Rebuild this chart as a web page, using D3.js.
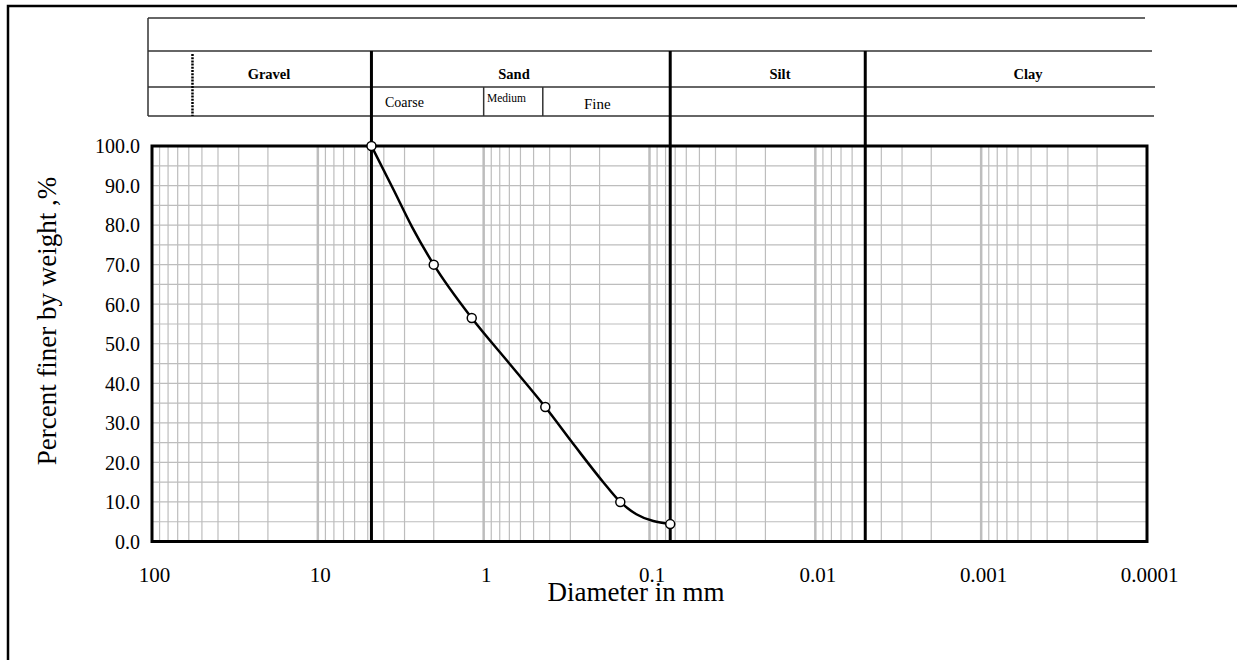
<!DOCTYPE html>
<html>
<head>
<meta charset="utf-8">
<script src="https://cdn.jsdelivr.net/npm/d3@7/dist/d3.min.js"></script>
<style>
  html, body { margin: 0; padding: 0; background: #fff; }
  svg { display: block; }
  text { font-family: "Liberation Serif", "Times New Roman", serif; fill: #000; }
</style>
</head>
<body>
<svg id="chart" width="1237" height="660"></svg>
<script>
// Sieve analysis results
const sieveSize = [4.75, 2.0, 1.18, 0.425, 0.15, 0.075];      // mm
const percentFiner = [100, 70, 56.5, 34, 10, 4.4];              // %

// Grading curve as drawn (passes through the sieve points)
const curveSize = [4.75, 3.5, 2.7, 2.0, 1.18, 0.7, 0.425, 0.28, 0.19, 0.15, 0.12, 0.075];
const curvePercent = [100, 89, 79.5, 70, 56.5, 45, 34, 24, 15, 10, 6.9, 4.4];

// Axis ticks
const xTickValues = [100, 10, 1, 0.1, 0.01, 0.001, 0.0001];
const xTickLabels = ["100", "10", "1", "0.1", "0.01", "0.001", "0.0001"];
const yTickValues = [0, 10, 20, 30, 40, 50, 60, 70, 80, 90, 100];

// Soil classification boundaries (mm)
const classBounds = [4.75, 0.075, 0.005];   // gravel|sand, sand|silt, silt|clay
const sandSubBounds = [1.0, 0.44];          // coarse|medium, medium|fine
const gravelDivider = 57;
const classNames = ["Gravel", "Sand", "Silt", "Clay"];
const sandNames = ["Coarse", "Medium", "Fine"];

const svg = d3.select("#chart");

const plot = { left: 152, right: 1147, top: 146, bottom: 541.5 };
const x = d3.scaleLog().domain([100, 0.0001]).range([plot.left, plot.right]);
const y = d3.scaleLinear().domain([0, 100]).range([plot.bottom, plot.top]);

// Outer frame (runs off the right and bottom edges)
svg.append("rect")
  .attr("x", 8).attr("y", 6).attr("width", 1260).attr("height", 700)
  .attr("fill", "none").attr("stroke", "#000").attr("stroke-width", 2.5);

// Minor/major vertical grid
const minorX = [];
for (let e = -4; e < 2; e++) {
  for (let m = 2; m <= 9; m++) minorX.push(m * Math.pow(10, e));
}
const grid = svg.append("g");
grid.selectAll("line.vminor").data(minorX).join("line")
  .attr("x1", d => x(d)).attr("x2", d => x(d))
  .attr("y1", plot.top).attr("y2", plot.bottom)
  .attr("stroke", "#bdbdbd").attr("stroke-width", 1.2);
grid.selectAll("line.vmajor").data(xTickValues.slice(1, -1)).join("line")
  .attr("x1", d => x(d)).attr("x2", d => x(d))
  .attr("y1", plot.top).attr("y2", plot.bottom)
  .attr("stroke", "#bdbdbd").attr("stroke-width", 2.5);

// Horizontal grid every 5 %
const hGrid = d3.range(5, 100, 5);
grid.selectAll("line.h").data(hGrid).join("line")
  .attr("x1", plot.left).attr("x2", plot.right)
  .attr("y1", d => y(d)).attr("y2", d => y(d))
  .attr("stroke", "#bdbdbd").attr("stroke-width", 1.2);

// Plot frame
svg.append("rect")
  .attr("x", plot.left).attr("y", plot.top)
  .attr("width", plot.right - plot.left).attr("height", plot.bottom - plot.top)
  .attr("fill", "none").attr("stroke", "#000").attr("stroke-width", 3);

// Classification table above the plot
const table = svg.append("g").attr("stroke", "#333").attr("stroke-width", 1.5);
const rows = [
  { y: 18, x2: 1145 },
  { y: 51, x2: 1152 },
  { y: 87, x2: 1155 },
  { y: 116, x2: 1154 }
];
table.selectAll("line.row").data(rows).join("line")
  .attr("x1", 148).attr("x2", d => d.x2)
  .attr("y1", d => d.y).attr("y2", d => d.y);
table.append("line").attr("x1", 148).attr("x2", 148).attr("y1", 18).attr("y2", 116);

// Sand sub-division ticks
table.selectAll("line.sub").data(sandSubBounds).join("line")
  .attr("x1", d => x(d)).attr("x2", d => x(d))
  .attr("y1", 87).attr("y2", 116);

// Dotted gravel divider
svg.append("line")
  .attr("x1", x(gravelDivider)).attr("x2", x(gravelDivider))
  .attr("y1", 54).attr("y2", 116)
  .attr("stroke", "#000").attr("stroke-width", 2.5)
  .attr("stroke-dasharray", "2,1.2");

// Class boundaries through table and plot
svg.selectAll("line.bound").data(classBounds).join("line")
  .attr("x1", d => x(d)).attr("x2", d => x(d))
  .attr("y1", 51).attr("y2", plot.bottom)
  .attr("stroke", "#000").attr("stroke-width", 3);

// Class headings
const headingX = [269, 514, 780, 1028];
svg.selectAll("text.cls").data(classNames).join("text")
  .attr("x", (d, i) => headingX[i]).attr("y", 79)
  .attr("text-anchor", "middle")
  .attr("font-weight", "bold").attr("font-size", 14.5)
  .text(d => d);

const sandLayout = [
  { x: 385, y: 107, size: 14 },
  { x: 487, y: 102, size: 11.5 },
  { x: 584, y: 109, size: 15 }
];
svg.selectAll("text.sand").data(sandNames).join("text")
  .attr("x", (d, i) => sandLayout[i].x).attr("y", (d, i) => sandLayout[i].y)
  .attr("font-size", (d, i) => sandLayout[i].size)
  .text(d => d);

// Axes
const xAxis = d3.axisBottom(x).tickValues(xTickValues)
  .tickFormat((d, i) => xTickLabels[i]).tickSize(0).tickPadding(0);
const gx = svg.append("g").attr("transform", `translate(2,${plot.bottom})`).call(xAxis);
gx.select(".domain").remove();
gx.selectAll("text").attr("dy", 0).attr("y", 40)
  .style("font-family", "'Liberation Serif', serif").style("font-size", "21px");

const yAxis = d3.axisLeft(y).tickValues(yTickValues)
  .tickFormat(d3.format(".1f")).tickSize(0).tickPadding(0);
const gy = svg.append("g").attr("transform", `translate(140,0)`).call(yAxis);
gy.select(".domain").remove();
gy.selectAll("text").attr("dy", "0.34em")
  .style("font-family", "'Liberation Serif', serif").style("font-size", "20px");

// Axis titles
svg.append("text")
  .attr("x", 636).attr("y", 601)
  .attr("text-anchor", "middle").attr("font-size", 27)
  .text("Diameter in mm");
svg.append("text")
  .attr("transform", "translate(56,321) rotate(-90)")
  .attr("text-anchor", "middle").attr("font-size", 27)
  .text("Percent finer by weight ,%");

// Grading curve
const curvePts = curveSize.map((d, i) => [d, curvePercent[i]]);
const line = d3.line()
  .x(d => x(d[0])).y(d => y(d[1]))
  .curve(d3.curveMonotoneX);
svg.append("path").datum(curvePts)
  .attr("d", line)
  .attr("fill", "none").attr("stroke", "#000").attr("stroke-width", 2.5);

// Sieve points
svg.selectAll("circle.pt").data(sieveSize).join("circle")
  .attr("cx", d => x(d)).attr("cy", (d, i) => y(percentFiner[i]))
  .attr("r", 4.5)
  .attr("fill", "#fff").attr("stroke", "#000").attr("stroke-width", 1.5);
</script>
</body>
</html>
